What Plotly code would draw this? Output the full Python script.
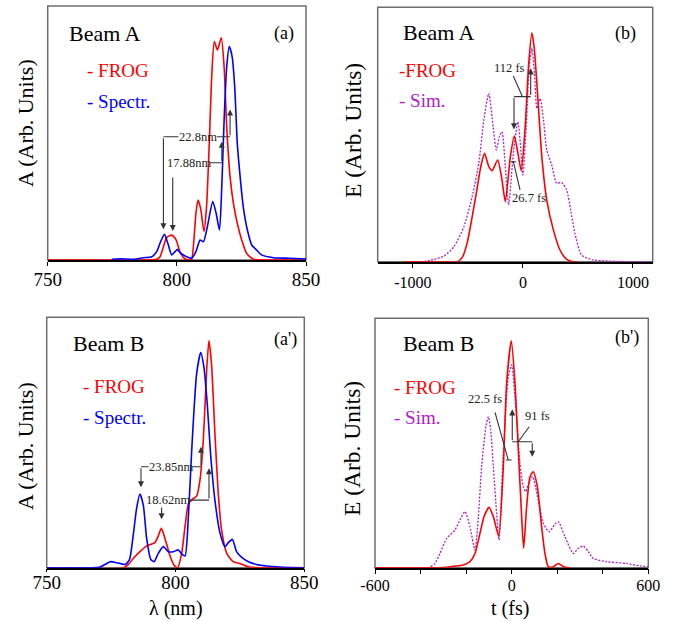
import plotly.graph_objects as go

# ---------------- data ----------------
# Panel (a) Beam A spectra
a_frog_x = [750, 785, 792.2, 793.5, 794.8, 796.1, 798.0, 799.7, 801.2, 802.8, 804.5, 805.7, 806.6, 807.4,
            808.2, 809.2, 810.5, 811.5, 812.6, 813.5, 814.5, 815.7, 817.2, 818.3, 819.3, 820.6, 821.9,
            823.4, 825.1, 827.0, 829.6, 835, 850]
a_frog_y = [0, 0, 0.003, 0.013, 0.052, 0.089, 0.098, 0.079, 0.033, 0.007, 0, 0.003, 0.079, 0.184,
            0.236, 0.203, 0.112, 0.21, 0.472, 0.722, 0.86, 0.827, 0.875, 0.761, 0.525, 0.328, 0.223,
            0.144, 0.079, 0.026, 0.003, 0, 0]
a_spec_x = [774.8, 778.0, 783.2, 787.0, 790.3, 792.2, 793.7, 795.2, 796.5, 798.0, 799.3, 800.2, 801.2,
            803.2, 805.7, 807.4, 809.0, 810.3, 811.8, 813.9, 815.2, 816.5, 817.4, 818.3, 819.3, 820.3,
            821.4, 822.4, 823.4, 824.5, 825.7, 827.3, 829.0, 830.6, 832.8, 837.4, 843.8, 850]
a_spec_y = [0.003, 0.005, 0.003, 0.009, 0.013, 0.033, 0.072, 0.101, 0.066, 0.02, 0.033, 0.042, 0.029,
            0.016, 0.007, 0.033, 0.079, 0.072, 0.131, 0.23, 0.184, 0.118, 0.289, 0.551, 0.761, 0.84,
            0.801, 0.682, 0.459, 0.328, 0.21, 0.118, 0.059, 0.042, 0.02, 0.009, 0.007, 0.004]

# Panel (b) Beam A temporal field
b_frog_x = [-1080, -700, -596, -551, -506, -461, -416, -386, -349, -310, -280, -229, -190, -160, -114,
            -78, -45, -15, 21, 51, 81, 102, 127, 172, 217, 277, 337, 398, 458, 500]
b_frog_y = [0, 0, 0, 0.017, 0.075, 0.177, 0.288, 0.367, 0.426, 0.374, 0.358, 0.40, 0.321, 0.236, 0.413,
            0.494, 0.426, 0.358, 0.531, 0.767, 0.90, 0.845, 0.701, 0.413, 0.242, 0.125, 0.046, 0.009, 0, 0]
b_sim_x = [-898, -807, -717, -627, -536, -461, -401, -355, -310, -271, -241, -214, -190, -160, -130,
           -84, -45, -21, 0, 30, 57, 81, 105, 127, 157, 187, 217, 262, 307, 352, 398, 434, 473, 533,
           639, 1000, 1175]
b_sim_y = [0, 0.009, 0.022, 0.059, 0.138, 0.256, 0.387, 0.557, 0.662, 0.531, 0.439, 0.491, 0.511,
           0.374, 0.223, 0.439, 0.55, 0.452, 0.341, 0.531, 0.767, 0.839, 0.74, 0.603, 0.642, 0.557,
           0.439, 0.38, 0.308, 0.311, 0.282, 0.203, 0.111, 0.026, 0.007, 0, 0]

# Panel (a') Beam B spectra
c_frog_x = [750, 779.8, 781.7, 783.6, 786.2, 788.8, 790.4, 792.0, 793.3, 794.5, 795.9, 797.9, 799.4,
            800.8, 802.4, 803.7, 805.0, 806.5, 808.2, 809.5, 810.8, 812.1, 813.0, 814.0, 815.3, 816.6,
            817.9, 819.9, 822.4, 825.0, 828.3, 832.8, 850]
c_frog_y = [0, 0, 0.013, 0.037, 0.064, 0.087, 0.093, 0.10, 0.126, 0.157, 0.117, 0.047, 0.011,
            0, 0.057, 0.164, 0.254, 0.273, 0.286, 0.35, 0.51, 0.79, 0.907, 0.81, 0.537, 0.297,
            0.15, 0.057, 0.024, 0.017, 0.004, 0, 0]
c_spec_x = [750, 770.7, 773.0, 774.6, 777.2, 780.4, 782.1, 783.6, 784.9, 786.2, 787.5, 788.8, 790.4,
            791.7, 793.3, 795.3, 797.2, 799.2, 801.1, 802.4, 803.7, 805.0, 806.3, 808.2, 809.8, 811.1,
            812.4, 813.6, 815.3, 817.3, 819.2, 820.5, 822.1, 823.7, 825.7, 828.3, 831.5, 835.4, 840.6, 850]
c_spec_y = [0, 0.003, 0.015, 0.024, 0.02, 0.013, 0.031, 0.13, 0.237, 0.294, 0.25, 0.117, 0.033,
            0.024, 0.057, 0.084, 0.064, 0.064, 0.071, 0.055, 0.047, 0.204, 0.47, 0.774, 0.859, 0.796,
            0.643, 0.457, 0.27, 0.137, 0.084, 0.10, 0.113, 0.064, 0.041, 0.024, 0.013, 0.007, 0.003, 0]

# Panel (b') Beam B temporal field
d_frog_x = [-600, -320, -271, -212, -183, -161, -139, -121, -99.5, -80.5, -57, -36.6, -22, -1.5, 14.6,
            29.3, 43.9, 52.7, 65.9, 80.5, 95, 112.7, 131.7, 146.3, 161, 183, 205, 227, 256]
d_frog_y = [0, 0, 0.004, 0.011, 0.024, 0.057, 0.138, 0.205, 0.242, 0.205, 0.127, 0.405, 0.739, 0.91,
            0.739, 0.472, 0.205, 0.078, 0.245, 0.365, 0.385, 0.325, 0.164, 0.057, 0.004, 0.004, 0.017,
            0.004, 0]
d_sim_x = [-600, -366, -337, -315, -285, -249, -227, -205, -183, -161, -146, -132, -113, -102, -92,
           -80.5, -66, -55.6, -36.6, -14.6, 0, 19, 36.6, 51, 61.5, 77.6, 92, 117, 139, 165, 190, 205,
           234, 271, 293, 315, 337, 358.5, 417, 505, 563, 600]
d_sim_y = [0, 0, 0.017, 0.057, 0.118, 0.151, 0.191, 0.225, 0.164, 0.071, 0.205, 0.405, 0.566, 0.606,
           0.552, 0.405, 0.218, 0.111, 0.459, 0.766, 0.813, 0.632, 0.418, 0.325, 0.305, 0.345, 0.365,
           0.271, 0.178, 0.144, 0.175, 0.184, 0.124, 0.057, 0.078, 0.087, 0.064, 0.037, 0.024, 0.017,
           0.007, 0.004]

# tick labels
a_ticks = [750, 800, 850]
a_ticktext = ["750", "800", "850"]
b_ticks = [-1000, 0, 1000]
b_ticktext = ["-1000", "0", "1000"]
d_ticks = [-600, -400, -200, 0, 200, 400, 600]
d_ticktext = ["-600", "", "", "0", "", "", "600"]

RED = "#ff0000"
BLUE = "#0000ff"
PURPLE = "#b020cc"
GRAY = "#333333"
FONT = "'Liberation Serif', 'Times New Roman', serif"

W, H = 678, 621

fig = go.Figure()

def line(x, y, color, ax, dash=None, width=1.6):
    fig.add_trace(go.Scatter(x=x, y=y, mode="lines", xaxis=ax[0], yaxis=ax[1],
                             line=dict(color=color, width=width, dash=dash, shape="spline", smoothing=0.6),
                             showlegend=False, hoverinfo="skip"))

line(a_frog_x, a_frog_y, RED, ("x", "y"))
line(a_spec_x, a_spec_y, BLUE, ("x", "y"))
line(b_sim_x, b_sim_y, PURPLE, ("x2", "y2"), dash="2px,1.5px", width=1.3)
line(b_frog_x, b_frog_y, RED, ("x2", "y2"))
line(c_frog_x, c_frog_y, RED, ("x3", "y3"))
line(c_spec_x, c_spec_y, BLUE, ("x3", "y3"))
line(d_sim_x, d_sim_y, PURPLE, ("x4", "y4"), dash="2px,1.5px", width=1.3)
line(d_frog_x, d_frog_y, RED, ("x4", "y4"))

def px2dom(x0, x1, y0, y1):
    return [x0 / W, x1 / W], [1 - y1 / H, 1 - y0 / H]

doms = {
    "1": px2dom(47.7, 306, 6, 260),
    "2": px2dom(377.7, 652.7, 7.3, 261.7),
    "3": px2dom(46.7, 304.3, 317.3, 567.7),
    "4": px2dom(375, 648.3, 318.3, 567.7),
}
xranges = {"1": [750, 850], "2": [-1320, 1180], "3": [750, 850], "4": [-600, 600]}
tickv = {"1": a_ticks, "2": b_ticks, "3": a_ticks, "4": d_ticks}
tickt = {"1": a_ticktext, "2": b_ticktext, "3": a_ticktext, "4": d_ticktext}
tfs = {"1": 19, "2": 16, "3": 19, "4": 16}
tlen = {"1": 4, "2": 5, "3": 3, "4": 5}
tstand = {"1": -3, "2": 0, "3": -6, "4": -3}

layout = dict(width=W, height=H, margin=dict(l=0, r=0, t=0, b=0, autoexpand=False),
              autosize=False,
              paper_bgcolor="white", plot_bgcolor="white", showlegend=False,
              font=dict(family=FONT, color="black"))
for k in ["1", "2", "3", "4"]:
    xn = "xaxis" if k == "1" else "xaxis" + k
    yn = "yaxis" if k == "1" else "yaxis" + k
    xd, yd = doms[k]
    layout[xn] = dict(domain=xd, range=xranges[k], anchor="y" if k == "1" else "y" + k,
                      showgrid=False, zeroline=False, showline=True, linecolor="black", linewidth=1.5,
                      ticks="outside", ticklen=tlen[k], tickcolor="black", tickwidth=1, automargin=False,
                      tickvals=tickv[k], ticktext=tickt[k], ticklabelstandoff=tstand[k],
                      tickfont=dict(size=tfs[k], family=FONT, color="black"),
                      layer="below traces")
    layout[yn] = dict(domain=yd, range=[0, 1], anchor="x" if k == "1" else "x" + k, automargin=False,
                      showgrid=False, zeroline=False, showline=False, showticklabels=False, ticks="")
fig.update_layout(**layout)

shapes = []
for k in ["1", "2", "3", "4"]:
    xr = "x domain" if k == "1" else "x%s domain" % k
    yr = "y domain" if k == "1" else "y%s domain" % k
    shapes.append(dict(type="rect", xref=xr, yref=yr, x0=0, x1=1, y0=0, y1=1,
                       line=dict(color="#6e6e6e", width=1.5), layer="below"))

anns = []

def paper_text(txt, x, y, size, color="black", anchor="left", angle=0):
    anns.append(dict(text=txt, x=x / W, y=1 - y / H, xref="paper", yref="paper", showarrow=False,
                     xanchor=anchor, yanchor="middle", textangle=angle,
                     font=dict(family=FONT, size=size, color=color)))

paper_text("Beam A", 67, 33, 22)
paper_text("(a)", 272, 33, 18)
paper_text("- FROG", 85, 71, 19, RED)
paper_text("- Spectr.", 85, 101, 19, BLUE)

paper_text("Beam A", 401, 32, 22)
paper_text("(b)", 613, 33, 18)
paper_text("-FROG", 397, 71, 19, RED)
paper_text("- Sim.", 397, 100, 19, PURPLE)

paper_text("Beam B", 71, 343, 22)
paper_text("(a')", 272, 339, 18)
paper_text("- FROG", 81, 386, 19, RED)
paper_text("- Spectr.", 81, 417, 19, BLUE)

paper_text("Beam B", 401, 343, 22)
paper_text("(b')", 613, 337, 18)
paper_text("- FROG", 392, 387, 19, RED)
paper_text("- Sim.", 392, 417, 19, PURPLE)

paper_text("A (Arb. Units)", 25, 123, 22, anchor="center", angle=-90)
paper_text("A (Arb. Units)", 25, 446, 22, anchor="center", angle=-90)
paper_text("E (Arb. Units)", 353, 131, 23.5, anchor="center", angle=-90)
paper_text("E (Arb. Units)", 352, 449, 23.5, anchor="center", angle=-90)
paper_text("λ (nm)", 176, 608, 20, anchor="center")
paper_text("t (fs)", 510, 608, 20, anchor="center")

def dtext(txt, x, y, k):
    xr = "x" if k == "1" else "x" + k
    yr = "y" if k == "1" else "y" + k
    anns.append(dict(text=txt, x=x, y=y, xref=xr, yref=yr, showarrow=False,
                     xanchor="center", yanchor="middle",
                     font=dict(family=FONT, size=12.5, color="#222222")))

def dseg(x0, y0, x1, y1, k):
    xr = "x" if k == "1" else "x" + k
    yr = "y" if k == "1" else "y" + k
    shapes.append(dict(type="line", xref=xr, yref=yr, x0=x0, y0=y0, x1=x1, y1=y1,
                       line=dict(color=GRAY, width=1.1)))

def darrow(xt, yt, xs, ys, k):
    xr = "x" if k == "1" else "x" + k
    yr = "y" if k == "1" else "y" + k
    anns.append(dict(text="", x=xt, y=yt, ax=xs, ay=ys, xref=xr, yref=yr, axref=xr, ayref=yr,
                     showarrow=True, arrowhead=2, arrowsize=1.1, arrowwidth=1.1, arrowcolor=GRAY,
                     standoff=0, startstandoff=0))

dtext("22.8nm", 808.1, 0.485, "1")
dseg(794.8, 0.485, 800.6, 0.485, "1")
dseg(815.5, 0.485, 820.6, 0.485, "1")
darrow(794.8, 0.121, 794.8, 0.485, "1")
darrow(820.6, 0.593, 820.6, 0.485, "1")
dtext("17.88nm", 804.7, 0.383, "1")
dseg(812.9, 0.383, 817.4, 0.383, "1")
darrow(817.4, 0.466, 817.4, 0.383, "1")
darrow(798.4, 0.114, 798.4, 0.331, "1")

dtext("112 fs", -126, 0.76, "2")
dseg(-87, 0.73, -5, 0.649, "2")
dseg(-81, 0.649, 71, 0.649, "2")
darrow(-81, 0.52, -81, 0.649, "2")
darrow(71, 0.76, 71, 0.649, "2")
dtext("26.7 fs", 55, 0.25, "2")
dseg(-26, 0.282, -87, 0.393, "2")
dseg(-112, 0.393, -62, 0.393, "2")

dtext("23.85nm", 798.1, 0.403, "3")
dseg(786.6, 0.403, 789.6, 0.403, "3")
dseg(806.5, 0.403, 809.9, 0.403, "3")
darrow(786.6, 0.321, 786.6, 0.403, "3")
darrow(809.9, 0.483, 809.9, 0.403, "3")
dtext("18.62nm", 797.1, 0.272, "3")
dseg(805.1, 0.27, 813.0, 0.27, "3")
darrow(813.0, 0.397, 813.0, 0.27, "3")
darrow(794.6, 0.193, 794.6, 0.246, "3")

dtext("22.5 fs", -118, 0.676, "4")
dseg(-73, 0.623, -15, 0.432, "4")
dseg(-26, 0.432, 0, 0.432, "4")
darrow(2.7, 0.635, 2.7, 0.505, "4")
dseg(2.7, 0.505, 90.5, 0.505, "4")
darrow(90.5, 0.445, 90.5, 0.505, "4")
dtext("91 fs", 114, 0.609, "4")
dseg(77, 0.565, 29, 0.505, "4")

fig.update_layout(shapes=shapes, annotations=anns)
fig.write_html("out.html", config={"responsive": False, "displayModeBar": False},
               post_script="document.body.style.margin='0px';document.body.style.overflow='hidden';")
